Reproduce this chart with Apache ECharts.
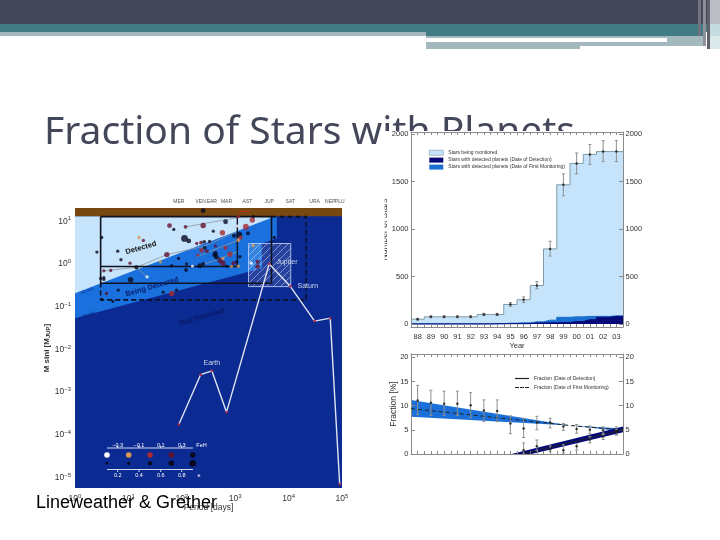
<!DOCTYPE html>
<html><head><meta charset="utf-8">
<style>html,body{margin:0;padding:0;background:#fff}#c{width:720px;height:540px}</style>
<script src="https://cdn.jsdelivr.net/npm/echarts@6/dist/echarts.min.js"></script>
</head><body><div id="c"></div>
<script>
// ---------- left panel data (log10 period [days], log10 M sini [M_JUP]) ----------
const planetLogP=[2.40,.41,.50,.80,.86,1.03,.54,.67,.48,.54,.54,1.04,1.15,1.72,1.60,1.20,1.28,1.77,1.85,2.07,2.40,2.82,2.59,2.76,2.05,2.13,2.28,2.36,2.42,2.52,2.43,2.37,2.47,2.30,2.63,2.82,2.63,2.61,2.65,2.72,2.77,2.90,2.77,2.98,3.08,3.06,3.10,3.04,3.20,3.32,3.34,3.24,3.06,2.97,2.93,3.06,2.84,2.40,2.34,2.20,2.08,2.09,1.81,1.94,1.35,.81,.59,.71,.50,1.81,1.65,1.90,3.30,3.42,3.42,3.34,3.73,3.09,3.03];
const planetLogM=[1.25,.28,.62,.30,.10,.02,-.16,-.15,-.34,-.32,-.36,-.37,-.08,.22,.05,.62,.55,.90,.81,.87,.90,.99,.77,.73,.60,.54,.48,.50,.52,.53,.38,.32,.30,.21,.42,.38,.25,.21,.16,.08,.02,.23,.13,.66,.69,.56,.62,.89,.87,1.03,1.11,.72,1.11,.02,-.06,-.05,-.05,0,-.04,-.05,-.14,0,-.04,.13,-.30,-.61,-.69,-.88,-.83,-.69,-.66,-.61,.02,.05,-.06,.43,.62,.17,.05];
const planetEcc=[.6,.3,.3,.3,.3,.3,.3,.3,.3,.3,.3,.7,.5,.7,.3,.3,.3,.6,.3,.4,.7,.6,.3,.7,.9,.6,.3,.4,.4,.3,.4,.6,.4,.3,.3,.5,.6,.5,.6,.7,.7,.7,.3,.5,.7,.5,.5,.2,.8,.7,.3,.4,.3,.5,.3,.3,.3,.4,.6,.2,.4,.3,.3,.3,.3,.3,.3,.2,.3,.7,.3,.3,.3,.5,.6,.3,.3,.3,.3];
const planetFeH=[.5,.5,.5,.5,.5,.3,.3,.3,.5,.5,.5,.5,.5,.3,-.1,-.1,.3,.3,.5,.3,.3,.5,.5,.1,.5,.5,.3,.3,.5,.5,.5,.1,.3,.1,.3,.1,.5,.5,.5,.3,.3,.1,-.1,.5,.5,-.1,.1,-.3,.1,.1,.5,.5,.1,.3,-.1,-.1,.5,.5,.5,-.3,.5,.5,.5,.5,-.3,.5,.3,.5,.5,.1,.5,.5,-.3,.3,.3,-.1,.5,.5,.5];
const systemLinks=[
 [[.54,-.16],[1.15,-.08],[1.72,.22],[2.40,.41],[3.04,.76]],
 [[2.07,.87],[3.06,1.09]],
 [[2.28,.17],[3.06,.56]],
 [[2.34,-.04],[3.06,.29]],
 [[1.15,-.08],[1.35,-.30]]
];
const solarNames=['Mercury','Venus','Earth','Mars','Jupiter','Saturn','Uranus','Neptune','Pluto'];
const solarPeriod=[88,225,365,687,4333,10759,30689,60182,90560];
const solarMass=[1.74e-4,2.56e-3,3.15e-3,3.4e-4,1,0.3,0.046,0.054,6.9e-6];
const topLabels=['MER','VEN','EAR','MAR','AST','JUP','SAT','URA','NEP','PLU'];
const topPeriods=[88,225,365,687,1690,4333,10759,30689,60182,90560];
const lightRegion=[[0,-.687],[3.66,1.07],[3.66,1.12],[0,1.12]];
const mediumRegion=[[0,-1.27],[3.50,-.10],[3.50,.48],[3.78,.60],[3.78,1.12],[0,1.12]];
const brownBand=[[0,1.12],[5,1.12],[5,1.31],[0,1.31]];
const solidBox=[[.48,1.11],[3.68,1.11],[3.68,-.45],[.48,-.45],[.48,1.11]];
const innerBox=[[.48,-.06],[3.04,-.06],[3.04,1.11]];
const dashedBox=[[3.68,1.11],[4.33,1.11],[4.33,-.84],[.48,-.84],[.48,-.45]];
const hatchLeft=[[3.25,.48],[3.50,.48],[3.50,-.53],[3.25,-.53]];
const hatchRight=[[3.50,.48],[4.04,.48],[4.04,-.53],[3.50,-.53]];
const arrowRed=[[3.06,1.22],[3.28,1.24]];
const logXTicks=[1,10,100,1000,10000,100000];
const logYTicks=[10,1,.1,.01,.001,.0001,.00001];
const fehLabels=['−0.3','−0.1','0.1','0.3'];
const eccLabels=['0.2','0.4','0.6','0.8'];

// ---------- right panels ----------
const years=[88,89,90,91,92,93,94,95,96,97,98,99,100,101,102,103];
const monitored=[50,75,75,75,75,100,100,205,255,405,790,1465,1690,1785,1815,1815];
const monLow=[40,65,65,65,65,88,88,185,225,370,715,1350,1580,1680,1710,1710];
const monHigh=[60,85,85,85,85,112,112,225,285,445,870,1580,1800,1890,1930,1930];
const firstMon=[2,2,2,2,2,2,3,8,12,22,40,70,75,80,80,85];
const detected=[0,0,0,0,0,0,2,3,3,10,12,15,25,45,70,80];
const fracYears=[88,89,90,91,92,93,94,95,96,97,98,99,100,101,102,103];
const fracA=[11.1,10.6,10.4,10.4,10.1,9,8.9,6.3,5.3,6.5,6.5,5.7,5.2,5,4.9,4.8];
const fracALow=[8.2,8,8,8,7.5,6.7,6.7,4.2,3.4,5,5.4,4.9,4.3,4.2,4,4];
const fracAHigh=[14.2,13.2,13,13,12.7,11.2,11.2,7.9,7.4,7.8,7.4,6.3,6.1,5.8,5.6,5.6];
const fracBYears=[96,97,98,99,100,101,102,103];
const fracB=[.8,1.6,1,.8,1.6,3,3.6,4.5];
const fracBLow=[0,.7,.5,.2,.8,2.3,3,3.9];
const fracBHigh=[2.3,2.9,1.7,1.9,2.2,3.6,4.2,5.1];
const bandA=[[87.5,11.2],[99.5,5.9],[103.5,5.3],[103.5,4.7],[99.5,5.9],[87.5,7.7]];
const bandB=[[95.1,0],[103.5,5.7],[103.5,4.5],[96.6,0]];
const lineDetect=[[95.9,0],[103.5,5]];
const lineFirst=[[87.5,9.4],[99.5,5.9],[103.5,5]];

// ---------- helpers ----------
const pow=p=>[Math.pow(10,p[0]),Math.pow(10,p[1])];
const feColor=f=>f<=-.2?'#ffffff':f<=0?'#d99a50':f<=.2?'#a82a32':f<=.4?'#641230':'#0a0a22';
const eccSize=e=>2.4+Math.pow(e,1.4)*5;
const steps=(xs,ys)=>[[xs[0]-.5,ys[0]],...xs.map((x,i)=>[x,ys[i]]),[xs[xs.length-1]+.5,ys[ys.length-1]]];
const poly=(pts,fill,extra)=>(p,api)=>({type:'polygon',shape:{points:pts.map(q=>api.coord(q))},style:Object.assign({fill:fill},extra||{})});
const hatch=document.createElement('canvas');hatch.width=hatch.height=7;
(function(){const g=hatch.getContext('2d');g.fillStyle='rgba(255,255,255,.12)';g.fillRect(0,0,7,7);g.strokeStyle='rgba(255,255,255,.4)';g.lineWidth=1;g.beginPath();g.moveTo(-1,8);g.lineTo(8,-1);g.moveTo(-1,1);g.lineTo(1,-1);g.moveTo(6,8);g.lineTo(8,6);g.stroke();})();
const powLabel=v=>{const e=Math.round(Math.log10(v));if(Math.abs(Math.log10(v)-e)>1e-6)return '';return '{a|10}{s|'+String(e).replace('-','−')+'}';};
const powRich={a:{fontSize:8.5,color:'#333',fontFamily:'Liberation Sans',lineHeight:11},s:{fontSize:6,color:'#333',fontFamily:'Liberation Sans',verticalAlign:'top',lineHeight:7}};
const polySeries=(name,pts,fill,z,xi,yi,extra,log)=>({type:'custom',name:name,silent:true,xAxisIndex:xi,yAxisIndex:yi,z:z,clip:true,coordinateSystem:'cartesian2d',
  data:[log?[1,1]:[pts[0][0],pts[0][1]]],encode:{x:0,y:1},legendHoverLink:false,
  renderItem:poly(log?pts.map(pow):pts,fill,extra)});
const pathSeries=(pts,color,w,type,z)=>({type:'line',xAxisIndex:0,yAxisIndex:0,data:pts.map(pow),showSymbol:false,symbol:'none',silent:true,z:z,lineStyle:{color:color,width:w,type:type||'solid'}});
const errSeries=(xs,lo,hi,xi,yi,cap)=>({type:'custom',xAxisIndex:xi,yAxisIndex:yi,z:6,silent:true,
  data:xs.map((x,i)=>[x,lo[i],hi[i]]),encode:{x:0,y:[1,2]},
  renderItem:(p,api)=>{const x=api.value(0),a=api.coord([x,api.value(1)]),b=api.coord([x,api.value(2)]),st={stroke:'#8f8f8f',lineWidth:1,fill:'none'};
    return {type:'group',children:[
      {type:'line',shape:{x1:a[0],y1:a[1],x2:b[0],y2:b[1]},style:st},
      {type:'line',shape:{x1:a[0]-cap,y1:a[1],x2:a[0]+cap,y2:a[1]},style:st},
      {type:'line',shape:{x1:b[0]-cap,y1:b[1],x2:b[0]+cap,y2:b[1]},style:st}]};}});

const halfTicks=[];years.forEach(y=>{halfTicks.push(y);if(y<103)halfTicks.push(y+.5);});
const GR='#8a8a8a',TX='#333';
const xR=(grid,pos,labels,name)=>({type:'value',gridIndex:grid,position:pos,min:87.5,max:103.5,z:5,splitLine:{show:false},
  axisLine:{show:true,onZero:false,lineStyle:{color:GR}},axisTick:{show:true,inside:true,length:3,lineStyle:{color:GR},customValues:halfTicks},
  name:name||'',nameLocation:'middle',nameGap:15,nameMoveOverlap:false,nameTextStyle:{color:TX,fontSize:7.5,fontFamily:'Liberation Sans'},
  axisLabel:labels?{show:true,customValues:years,margin:6,color:TX,fontSize:7.5,fontFamily:'Liberation Sans',formatter:v=>String(v%100).padStart(2,'0')}:{show:false}});
const yR=(grid,pos,mn,mx,vals,name,gap)=>({type:'value',gridIndex:grid,position:pos,min:mn,max:mx,z:5,splitLine:{show:false},
  axisLine:{show:true,onZero:false,lineStyle:{color:GR}},axisTick:{show:true,inside:true,length:4,lineStyle:{color:GR},customValues:vals},
  name:name||'',nameLocation:'middle',nameGap:gap||20,nameMoveOverlap:false,nameTextStyle:{color:TX,fontSize:8.5,fontFamily:'Liberation Sans'},
  axisLabel:{show:true,customValues:vals,margin:2.5,color:TX,fontSize:7.5,fontFamily:'Liberation Sans',formatter:v=>String(v)}});

const gfx=[];
const rect=(x,y,w,h,fill,z)=>gfx.push({type:'rect',z:z||1,silent:true,shape:{x,y,width:w,height:h},style:{fill}});
const txt=(x,y,t,o)=>gfx.push({type:'text',x,y,z:(o&&o.z)||8,rotation:(o&&o.rot)||0,silent:true,style:{text:t,fill:(o&&o.fill)||'#fff',font:(o&&o.font)||'5.5px "Liberation Sans"',textAlign:'center',textVerticalAlign:'middle'}});
// slide header
rect(0,0,720,24,'#44465a');rect(0,24,720,8,'#417c85');rect(426,32,278,4,'#417c85');rect(0,32,426,4,'#a3b9bd');
rect(426,36,278,2,'#a3b9bd');rect(426,42,154,7,'#a3b9bd');rect(580,42,87,4,'#a3b9bd');rect(667,36,38,10,'#a3b9bd');
rect(698,0,3,36,'#70727f');rect(703,0,3,46,'#8e9098');rect(707,0,3,49,'#5e606c');rect(710,0,10,24,'#bcbcc4');rect(710,24,10,12,'#c4dcdf');rect(710,36,10,13,'#dce9ea');
// backing of the pasted right-hand figures
rect(385,131,262,330,'#ffffff');
rect(370,195,14.6,70,'#ffffff',6);
// region labels
txt(141,248,'Detected',{rot:.28,fill:'#111',font:'bold 7.5px "Liberation Sans"'});
txt(152,287,'Being Detected',{rot:.28,fill:'#0a1f70',font:'bold 7.5px "Liberation Sans"'});
txt(202,317,'Not Detected',{rot:.28,fill:'#071a60',font:'bold 7.5px "Liberation Sans"'});
txt(87,291,'40 m/s',{rot:.35,fill:'#0c2a90',font:'4.5px "Liberation Sans"'});
txt(88,315,'10 m/s',{rot:.35,fill:'#0a1f70',font:'4.5px "Liberation Sans"'});
// FeH / e key
const keyX=[107,128.7,150,171.3,192.7];const keyT=[117.7,139,160.7,181.7];
const line=(x1,y1,x2,y2)=>gfx.push({type:'line',z:8,silent:true,shape:{x1,y1,x2,y2},style:{stroke:'#e8eeff',lineWidth:.9}});
line(107,448,193,448);line(107,469.5,193,469.5);
keyT.forEach((x,i)=>{line(x,445.5,x,448);line(x,469.5,x,472);txt(x,445,fehLabels[i],{});txt(x,475.5,eccLabels[i],{});});
txt(201.5,445,'FeH',{});txt(199,475.5,'e',{});
const keyF=[-.3,-.1,.1,.3,.5],keyE=[.1,.3,.5,.7,.9];
keyX.forEach((x,i)=>{gfx.push({type:'circle',z:8,silent:true,shape:{cx:x,cy:455,r:2.8},style:{fill:feColor(keyF[i])}});
  gfx.push({type:'circle',z:8,silent:true,shape:{cx:x,cy:463.3,r:eccSize(keyE[i])/2},style:{fill:'#08081e'}});});
// caption
gfx.push({type:'text',x:36,y:503,z:20,silent:true,style:{text:'Lineweather & Grether',fill:'#000',font:'18px "Liberation Sans"',textVerticalAlign:'middle'}});

const option={animation:false,backgroundColor:'#fff',
 title:{text:'Fraction of Stars with Planets',left:44,top:113,z:0,zlevel:0,padding:0,textStyle:{color:'#44465a',fontSize:39,fontWeight:'normal',fontFamily:'Noto Sans'}},
 legend:[
  {left:424,top:145,orient:'vertical',itemWidth:14,itemHeight:5,itemGap:2,itemStyle:{borderWidth:0},z:7,selectedMode:false,textStyle:{fontSize:5,color:'#333',fontFamily:'Liberation Sans'},
   data:[{name:'Stars being monitored',icon:'rect',itemStyle:{borderColor:'#7f9aa6',borderWidth:.6}},{name:'Stars with detected planets (Date of Detection)',icon:'rect'},{name:'Stars with detected planets (Date of First Monitoring)',icon:'rect'}]},
  {left:510,top:371,orient:'vertical',itemWidth:14,itemHeight:1.2,itemGap:4,z:7,selectedMode:false,textStyle:{fontSize:5,color:'#333',fontFamily:'Liberation Sans'},
   data:[{name:'Fraction (Date of Detection)',icon:'rect'},{name:'Fraction (Date of First Monitoring)',icon:'path://M0 0h4v1H0z M5 0h4v1H5z M10 0h4v1h-4z'}]}],
 grid:[{left:75,right:378,top:208,bottom:52,containLabel:false},{left:411,right:97,top:132,bottom:213},{left:411,right:97,top:354,bottom:86}],
 xAxis:[
  {type:'log',gridIndex:0,min:1,max:100000,z:5,axisLine:{show:false},axisTick:{show:false},splitLine:{show:false},minorTick:{show:false},
   name:'Period [days]',nameLocation:'middle',nameGap:15,nameMoveOverlap:false,nameTextStyle:{color:'#333',fontSize:8.5,fontFamily:'Liberation Sans'},
   axisLabel:{margin:5,customValues:logXTicks,formatter:powLabel,rich:powRich}},
  xR(1,'bottom',true,'Year'),xR(1,'top',false),xR(2,'bottom',false),xR(2,'top',false)],
 yAxis:[
  {type:'log',gridIndex:0,min:5.67e-6,max:20.5,z:5,axisLine:{show:false},axisTick:{show:false},splitLine:{show:false},minorTick:{show:false},
   name:'{n|M sini [M}{j|JUP}{n|]}',nameLocation:'middle',nameGap:24,nameMoveOverlap:false,
   nameTextStyle:{rich:{n:{fontSize:8,fontWeight:'bold',color:'#333',fontFamily:'Liberation Sans'},j:{fontSize:6,fontWeight:'bold',color:'#333',fontFamily:'Liberation Sans',verticalAlign:'bottom'}}},
   axisLabel:{margin:4,customValues:logYTicks,formatter:powLabel,rich:powRich}},
  yR(1,'left',-32,2021,[0,500,1000,1500,2000],'Number of Stars',22),yR(1,'right',-32,2021,[0,500,1000,1500,2000]),
  yR(2,'left',0,20.7,[0,5,10,15,20],'Fraction [%]',13),yR(2,'right',0,20.7,[0,5,10,15,20])],
 series:[
  polySeries('bg',[[0,-5.25],[5,-5.25],[5,1.31],[0,1.31]],'#0b2a92',2,0,0,null,true),
  polySeries('medium',mediumRegion,'#1a70dc',2.1,0,0,null,true),
  polySeries('light',lightRegion,'#c6e4fb',2.2,0,0,null,true),
  polySeries('hatchR',hatchRight,{image:hatch,repeat:'repeat'},2.3,0,0,null,true),
  polySeries('hatchL',hatchLeft,{image:hatch,repeat:'repeat'},2.3,0,0,null,true),
  polySeries('hatchBorder',[[3.25,.48],[4.04,.48],[4.04,-.53],[3.25,-.53]],'none',2.3,0,0,{stroke:'#c9d8f5',lineWidth:.8},true),
  polySeries('brown',brownBand,'#77480f',2.4,0,0,null,true),
  ...systemLinks.map(l=>pathSeries(l,'#8d98a0',.8,'solid',3)),
  pathSeries(solidBox,'#10131f',1.6,'solid',4),pathSeries(innerBox,'#10131f',1.4,'solid',4),
  pathSeries(dashedBox,'#0a0f2a',1.6,[5,3],4),pathSeries(arrowRed,'#c0281e',1,'solid',4),
  {type:'scatter',name:'planets',xAxisIndex:0,yAxisIndex:0,z:5,silent:true,
   data:planetLogP.map((p,i)=>({value:pow([p,planetLogM[i]]),symbolSize:eccSize(planetEcc[i]),itemStyle:{color:feColor(planetFeH[i])}}))},
  {type:'line',name:'solar',xAxisIndex:0,yAxisIndex:0,z:6,silent:true,showSymbol:true,symbol:'circle',symbolSize:2.5,
   itemStyle:{color:'#b02a40'},lineStyle:{color:'#dfe4f2',width:1.4},
   data:solarPeriod.map((p,i)=>{const n=solarNames[i];const show=n==='Jupiter'||n==='Saturn'||n==='Earth';
     return {value:[p,solarMass[i]],label:{show:show,formatter:n,color:'#cfd8ea',fontSize:7,fontFamily:'Liberation Sans',position:n==='Earth'?'top':'right',distance:n==='Earth'?3:6,offset:n==='Jupiter'?[0,-2]:[0,0]}};})},
  {type:'scatter',name:'orbits',xAxisIndex:0,yAxisIndex:0,z:6,silent:true,symbolSize:1,clip:false,itemStyle:{color:'rgba(0,0,0,0)'},
   data:topPeriods.map((p,i)=>({value:[p,20.5],label:{show:true,formatter:topLabels[i],position:'top',distance:3,color:'#222',fontSize:5,fontFamily:'Liberation Sans'}}))},
  // top-right
  {type:'line',name:'Stars being monitored',xAxisIndex:1,yAxisIndex:1,step:'middle',showSymbol:false,symbol:'none',z:2,silent:true,
   data:steps(years,monitored),itemStyle:{color:'#c5e4fb',borderColor:'#7f9aa6'},lineStyle:{color:'#7f9aa6',width:1},areaStyle:{color:'#c5e4fb',origin:0,opacity:1}},
  {type:'line',name:'Stars with detected planets (Date of First Monitoring)',xAxisIndex:1,yAxisIndex:1,step:'middle',showSymbol:false,symbol:'none',z:3,silent:true,
   data:steps(years,firstMon),itemStyle:{color:'#1a70d0'},lineStyle:{color:'#1a70d0',width:1},areaStyle:{color:'#1a70d0',origin:0,opacity:1}},
  {type:'line',name:'Stars with detected planets (Date of Detection)',xAxisIndex:1,yAxisIndex:1,step:'middle',showSymbol:false,symbol:'none',z:4,silent:true,
   data:steps(years,detected),itemStyle:{color:'#060a78'},lineStyle:{color:'#060a78',width:1},areaStyle:{color:'#060a78',origin:0,opacity:1}},
  errSeries(years,monLow,monHigh,1,1,1.5),
  {type:'scatter',xAxisIndex:1,yAxisIndex:1,z:7,symbolSize:2.5,itemStyle:{color:'#111'},silent:true,data:years.map((y,i)=>[y,monitored[i]])},
  // bottom-right
  polySeries('bandA',bandA,'#1a70d8',2,3,3),
  polySeries('bandB',bandB,'#060a78',3,3,3),
  errSeries(fracYears,fracALow,fracAHigh,3,3,1.5),
  errSeries(fracBYears,fracBLow,fracBHigh,3,3,1.5),
  {type:'scatter',xAxisIndex:3,yAxisIndex:3,z:7,symbolSize:2.5,itemStyle:{color:'#111'},silent:true,data:fracYears.map((y,i)=>[y,fracA[i]])},
  {type:'scatter',xAxisIndex:3,yAxisIndex:3,z:7,symbolSize:2.5,itemStyle:{color:'#111'},silent:true,data:fracBYears.map((y,i)=>[y,fracB[i]])},
  {type:'line',name:'Fraction (Date of Detection)',xAxisIndex:3,yAxisIndex:3,z:5,showSymbol:false,symbol:'none',silent:true,data:lineDetect,itemStyle:{color:'#222'},lineStyle:{color:'#222',width:1}},
  {type:'line',name:'Fraction (Date of First Monitoring)',xAxisIndex:3,yAxisIndex:3,z:5,showSymbol:false,symbol:'none',silent:true,data:lineFirst,itemStyle:{color:'#222'},lineStyle:{color:'#222',width:1,type:[4,3]}}
 ],
 graphic:{elements:gfx}
};
const chart=echarts.init(document.getElementById('c'),null,{renderer:'canvas'});
chart.setOption(option);
</script></body></html>
